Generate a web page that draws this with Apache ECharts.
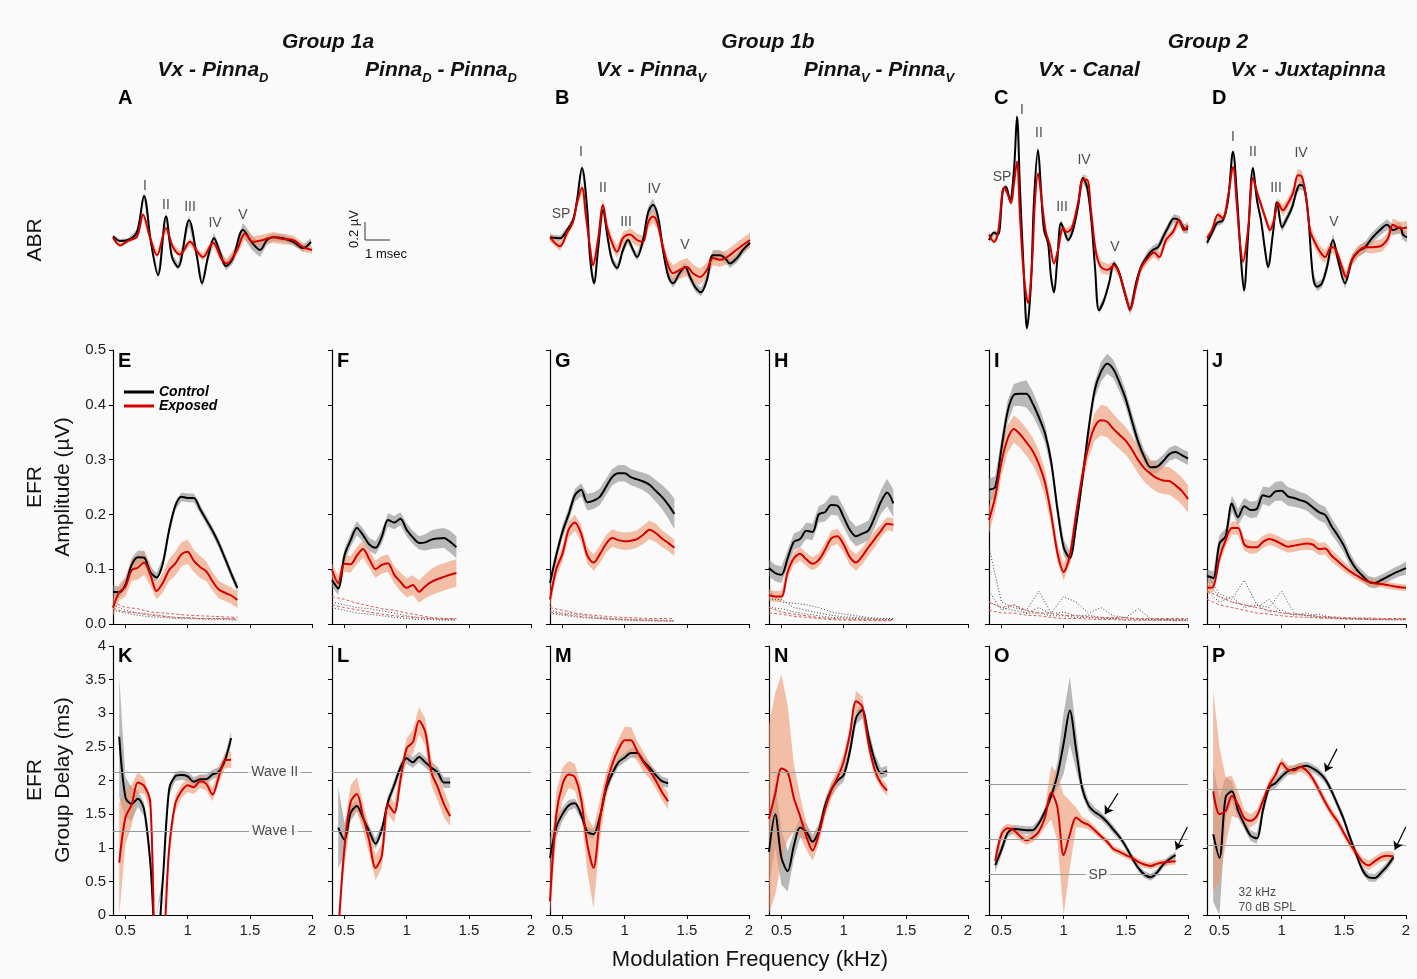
<!DOCTYPE html>
<html><head><meta charset="utf-8">
<script src="https://cdn.jsdelivr.net/npm/echarts@6/dist/echarts.min.js"></script>
<style>html,body{margin:0;padding:0;background:#fafafa}#c{width:1417px;height:979px}</style>
</head><body><div id="c"></div>
<script>
// ---------------- DATA ----------------
const freqs = [0.40,0.45,0.50,0.55,0.60,0.65,0.70,0.75,0.80,0.85,0.90,0.95,1.00,1.05,1.10,1.15,1.20,1.25,1.30,1.35,1.40,1.45,1.50,1.55,1.60,1.65,1.70,1.75,1.80,1.85,1.90,1.95,2.00];
const noiseFreqs = [0.4,0.5,0.6,0.7,0.8,0.9,1.0,1.1,1.2,1.3,1.4,1.5,1.6,1.7,1.8,1.9,2.0];
const tickFreqs = [0.5, 1, 1.5, 2];

// EFR amplitude (uV)
const ampE_ctrl = [0.059,0.058,0.072,0.108,0.122,0.121,0.095,0.085,0.11,0.17,0.215,0.232,0.23,0.23,0.21,0.19,0.17,0.147,0.12,0.092,0.066];
const ampE_exp  = [0.03,0.058,0.068,0.098,0.103,0.112,0.09,0.06,0.075,0.098,0.11,0.127,0.132,0.115,0.104,0.096,0.078,0.063,0.057,0.052,0.044];
const semE_ctrl = [0.012,0.01,0.01,0.012,0.012,0.012,0.01,0.008,0.01,0.01,0.008,0.008,0.008,0.008,0.008,0.008,0.008,0.008,0.008,0.008,0.008];
const semE_exp  = [0.015,0.015,0.018,0.02,0.022,0.022,0.02,0.015,0.018,0.02,0.022,0.022,0.022,0.02,0.02,0.018,0.017,0.016,0.015,0.015,0.015];
const ampF_ctrl = [0.08,0.065,0.125,0.153,0.175,0.162,0.145,0.139,0.159,0.19,0.185,0.192,0.172,0.158,0.148,0.149,0.154,0.156,0.157,0.15,0.14];
const ampF_exp  = [0.099,0.075,0.11,0.109,0.125,0.137,0.118,0.1,0.108,0.111,0.09,0.077,0.066,0.071,0.059,0.069,0.077,0.082,0.086,0.09,0.093];
const semF_ctrl = [0.012,0.012,0.012,0.012,0.013,0.012,0.012,0.012,0.012,0.012,0.012,0.012,0.012,0.012,0.012,0.015,0.017,0.018,0.018,0.02,0.02];
const semF_exp  = [0.012,0.013,0.015,0.015,0.016,0.016,0.016,0.016,0.016,0.016,0.016,0.017,0.017,0.018,0.02,0.022,0.024,0.025,0.025,0.025,0.025];
const ampG_ctrl = [0.075,0.125,0.168,0.2,0.235,0.245,0.222,0.225,0.232,0.25,0.268,0.275,0.275,0.268,0.264,0.26,0.254,0.243,0.232,0.218,0.201];
const ampG_exp  = [0.045,0.1,0.128,0.172,0.185,0.165,0.125,0.112,0.127,0.146,0.157,0.153,0.151,0.152,0.155,0.163,0.172,0.166,0.156,0.148,0.139];
const semG_ctrl = [0.012,0.012,0.012,0.012,0.012,0.012,0.015,0.015,0.015,0.015,0.015,0.015,0.015,0.015,0.015,0.016,0.018,0.02,0.022,0.025,0.028];
const semG_exp  = [0.015,0.015,0.015,0.015,0.015,0.015,0.015,0.015,0.016,0.016,0.016,0.016,0.016,0.016,0.016,0.017,0.017,0.017,0.015,0.015,0.015];
const ampH_ctrl = [0.102,0.093,0.09,0.12,0.15,0.155,0.17,0.168,0.2,0.204,0.217,0.216,0.195,0.172,0.16,0.165,0.171,0.195,0.223,0.24,0.22];
const ampH_exp  = [0.053,0.05,0.05,0.095,0.12,0.128,0.118,0.11,0.117,0.135,0.156,0.16,0.145,0.122,0.112,0.124,0.14,0.155,0.17,0.183,0.181];
const semH_ctrl = [0.015,0.015,0.015,0.015,0.015,0.015,0.015,0.015,0.015,0.017,0.018,0.018,0.018,0.018,0.018,0.018,0.018,0.02,0.022,0.025,0.025];
const semH_exp  = [0.01,0.01,0.01,0.012,0.012,0.012,0.012,0.012,0.012,0.013,0.014,0.014,0.014,0.015,0.015,0.015,0.015,0.015,0.012,0.012,0.012];
const ampI_ctrl = [0.245,0.25,0.32,0.388,0.418,0.42,0.42,0.403,0.378,0.348,0.296,0.21,0.14,0.12,0.18,0.263,0.354,0.427,0.46,0.475,0.465,0.44,0.41,0.37,0.332,0.304,0.286,0.287,0.297,0.31,0.314,0.308,0.302];
const ampI_exp  = [0.19,0.232,0.295,0.338,0.356,0.346,0.332,0.316,0.292,0.258,0.2,0.13,0.095,0.125,0.2,0.27,0.325,0.36,0.372,0.369,0.356,0.345,0.334,0.318,0.299,0.284,0.274,0.266,0.262,0.261,0.253,0.243,0.228];
const semI_ctrl = [0.02,0.02,0.02,0.02,0.02,0.022,0.025,0.022,0.02,0.017,0.015,0.015,0.015,0.012,0.012,0.015,0.015,0.015,0.018,0.018,0.017,0.016,0.015,0.015,0.015,0.012,0.012,0.012,0.012,0.012,0.012,0.012,0.012];
const semI_exp  = [0.025,0.025,0.025,0.025,0.025,0.025,0.025,0.025,0.025,0.025,0.02,0.018,0.015,0.015,0.015,0.018,0.022,0.025,0.028,0.028,0.027,0.026,0.025,0.025,0.025,0.025,0.025,0.025,0.025,0.025,0.025,0.025,0.025];
const ampJ_ctrl = [0.088,0.084,0.147,0.16,0.22,0.195,0.215,0.208,0.21,0.235,0.232,0.242,0.243,0.233,0.23,0.226,0.222,0.213,0.204,0.199,0.179,0.162,0.143,0.118,0.1,0.088,0.077,0.075,0.08,0.086,0.092,0.097,0.102];
const ampJ_exp  = [0.066,0.068,0.12,0.153,0.175,0.175,0.145,0.14,0.14,0.15,0.155,0.152,0.146,0.141,0.143,0.145,0.147,0.145,0.137,0.138,0.125,0.115,0.105,0.096,0.089,0.082,0.077,0.074,0.073,0.071,0.069,0.067,0.066];
const semJ_ctrl = [0.012,0.012,0.015,0.015,0.015,0.015,0.015,0.015,0.015,0.016,0.017,0.017,0.018,0.017,0.016,0.015,0.015,0.015,0.015,0.015,0.015,0.014,0.013,0.012,0.01,0.01,0.01,0.01,0.01,0.01,0.01,0.01,0.012];
const semJ_exp  = [0.01,0.01,0.012,0.012,0.012,0.012,0.012,0.012,0.011,0.011,0.011,0.011,0.011,0.011,0.011,0.011,0.011,0.011,0.011,0.011,0.011,0.01,0.009,0.008,0.008,0.007,0.007,0.007,0.006,0.006,0.006,0.006,0.006];

// noise floors (uV) sampled every 0.1 kHz
const noiseE_c1 = [0.035,0.025,0.02,0.018,0.015,0.012,0.012,0.01,0.01,0.01,0.008];
const noiseE_c2 = [0.025,0.02,0.016,0.013,0.012,0.01,0.01,0.009,0.008,0.008,0.007];
const noiseE_e1 = [0.04,0.03,0.028,0.022,0.02,0.018,0.016,0.015,0.014,0.013,0.012];
const noiseE_e2 = [0.028,0.022,0.02,0.016,0.014,0.012,0.011,0.01,0.01,0.01,0.01];
const noiseF_c1 = [0.04,0.035,0.03,0.028,0.024,0.02,0.015,0.012,0.01,0.008,0.008];
const noiseF_c2 = [0.03,0.025,0.02,0.018,0.015,0.012,0.01,0.008,0.008,0.007,0.007];
const noiseF_e1 = [0.05,0.045,0.038,0.033,0.028,0.025,0.02,0.016,0.012,0.01,0.01];
const noiseF_e2 = [0.035,0.03,0.026,0.022,0.018,0.015,0.013,0.011,0.01,0.009,0.009];
const noiseG_c1 = [0.025,0.02,0.018,0.015,0.012,0.01,0.009,0.008,0.007,0.007,0.006];
const noiseG_c2 = [0.02,0.016,0.013,0.011,0.01,0.008,0.007,0.006,0.006,0.005,0.005];
const noiseG_e1 = [0.03,0.025,0.02,0.017,0.015,0.013,0.012,0.011,0.01,0.01,0.01];
const noiseG_e2 = [0.022,0.018,0.015,0.012,0.01,0.009,0.008,0.007,0.007,0.006,0.006];
const noiseH_c1 = [0.06,0.04,0.038,0.035,0.03,0.022,0.018,0.015,0.012,0.01,0.01];
const noiseH_c2 = [0.045,0.045,0.03,0.025,0.02,0.016,0.013,0.012,0.01,0.009,0.008];
const noiseH_c3 = [0.03,0.028,0.022,0.018,0.015,0.012,0.011,0.01,0.009,0.008,0.008];
const noiseH_e1 = [0.03,0.022,0.018,0.015,0.012,0.01,0.009,0.008,0.008,0.007,0.007];
const noiseH_e2 = [0.02,0.018,0.014,0.012,0.01,0.008,0.007,0.007,0.006,0.006,0.006];
const noiseI_c1 = [0.14,0.04,0.03,0.025,0.06,0.02,0.05,0.04,0.02,0.03,0.015,0.012,0.028,0.01,0.008,0.008,0.008];
const noiseI_c2 = [0.04,0.03,0.025,0.02,0.02,0.015,0.015,0.012,0.012,0.01,0.01,0.008,0.008,0.007,0.007,0.006,0.006];
const noiseI_c3 = [0.06,0.025,0.035,0.02,0.03,0.018,0.022,0.015,0.016,0.012,0.01,0.012,0.009,0.008,0.009,0.007,0.007];
const noiseI_e1 = [0.04,0.03,0.035,0.025,0.02,0.02,0.016,0.015,0.013,0.012,0.012,0.011,0.01,0.01,0.01,0.01,0.01];
const noiseI_e2 = [0.025,0.02,0.02,0.016,0.015,0.012,0.01,0.01,0.009,0.008,0.008,0.007,0.007,0.007,0.007,0.007,0.007];
const noiseJ_c1 = [0.09,0.055,0.045,0.08,0.035,0.03,0.06,0.02,0.015,0.018,0.012,0.01,0.01,0.01,0.009,0.009,0.009];
const noiseJ_c2 = [0.075,0.05,0.04,0.035,0.03,0.045,0.02,0.018,0.015,0.012,0.012,0.01,0.009,0.008,0.008,0.008,0.008];
const noiseJ_c3 = [0.06,0.04,0.05,0.03,0.035,0.022,0.025,0.016,0.02,0.012,0.011,0.01,0.009,0.009,0.008,0.008,0.008];
const noiseJ_e1 = [0.06,0.05,0.04,0.035,0.03,0.025,0.02,0.018,0.016,0.014,0.013,0.012,0.011,0.011,0.01,0.01,0.01];
const noiseJ_e2 = [0.045,0.035,0.03,0.025,0.02,0.018,0.015,0.013,0.012,0.011,0.01,0.009,0.009,0.008,0.008,0.008,0.008];

// EFR group delay (ms)
const delK_ctrl = [null,2.65,1.75,1.65,1.73,1.57,0.78,-0.6,0.5,1.85,2.06,2.08,2.06,1.98,2.02,2.02,2.09,2.13,2.3,2.63];
const delK_exp  = [null,0.78,1.45,1.64,1.97,1.92,1.67,-0.8,-0.6,0.95,1.65,1.84,1.93,1.9,1.99,1.95,1.79,2.05,2.3,2.31];
const sdK_ctrl  = [null,0.9,0.3,0.25,0.12,0.1,0.1,0.1,0.1,0.08,0.07,0.07,0.07,0.07,0.07,0.07,0.07,0.07,0.08,0.1];
const sdK_exp   = [null,0.9,0.4,0.3,0.15,0.12,0.1,0.1,0.1,0.12,0.12,0.1,0.1,0.1,0.1,0.1,0.1,0.1,0.12,0.12];
const delL_ctrl = [null,1.3,1.12,1.52,1.62,1.44,1.24,1.06,1.27,1.68,1.93,2.19,2.33,2.27,2.35,2.27,2.19,2.12,1.97,1.97];
const delL_exp  = [null,-0.3,1.0,1.68,1.8,1.46,1.1,0.7,0.88,1.65,1.52,2.01,2.48,2.57,2.89,2.72,2.12,1.9,1.65,1.47];
const sdL_ctrl  = [null,0.6,0.25,0.12,0.08,0.08,0.08,0.08,0.08,0.08,0.08,0.08,0.08,0.08,0.08,0.08,0.08,0.08,0.08,0.08];
const sdL_exp   = [null,0.3,0.3,0.25,0.25,0.2,0.2,0.18,0.18,0.15,0.15,0.15,0.15,0.18,0.2,0.2,0.2,0.2,0.2,0.15];
const delM_ctrl = [0.85,1.3,1.5,1.63,1.66,1.49,1.24,1.2,1.45,1.87,2.1,2.27,2.34,2.41,2.41,2.29,2.19,2.08,1.99,1.96];
const delM_exp  = [0.2,1.48,1.94,2.09,2.05,1.72,1.05,0.7,1.4,1.92,2.24,2.46,2.6,2.6,2.44,2.28,2.15,2.0,1.83,1.69];
const sdM_ctrl  = [0.3,0.15,0.1,0.08,0.07,0.07,0.07,0.07,0.08,0.08,0.07,0.07,0.07,0.07,0.07,0.07,0.07,0.07,0.07,0.07];
const sdM_exp   = [0.5,0.35,0.25,0.2,0.2,0.2,0.4,0.6,0.3,0.2,0.15,0.15,0.2,0.2,0.15,0.15,0.12,0.12,0.12,0.12];
const delN_ctrl = [0.94,1.5,0.85,0.65,1.03,1.3,1.24,1.09,1.25,1.62,1.86,2.0,2.08,2.43,2.93,3.05,2.65,2.3,2.11,2.14];
const delN_exp  = [1.43,1.8,2.18,2.12,1.74,1.47,1.17,0.96,1.2,1.57,1.85,2.04,2.28,2.68,3.18,3.1,2.55,2.16,1.96,1.85];
const sdN_ctrl  = [0.5,0.5,0.4,0.3,0.2,0.15,0.12,0.1,0.1,0.1,0.1,0.1,0.1,0.1,0.1,0.12,0.12,0.1,0.08,0.08];
const sdN_exp   = [1.4,1.5,1.4,1.0,0.5,0.3,0.2,0.15,0.15,0.12,0.12,0.12,0.12,0.12,0.15,0.15,0.12,0.1,0.08,0.08];
const delO_ctrl = [null,0.74,0.97,1.22,1.28,1.27,1.26,1.26,1.36,1.54,1.77,2.08,2.55,3.04,2.46,1.88,1.63,1.53,1.47,1.38,1.27,1.16,1.02,0.85,0.7,0.6,0.56,0.63,0.75,0.83,0.89];
const delO_exp  = [null,0.8,1.2,1.29,1.26,1.17,1.11,1.15,1.24,1.45,1.82,1.6,0.89,1.2,1.45,1.38,1.34,1.26,1.17,1.09,0.98,0.94,0.89,0.85,0.79,0.75,0.73,0.76,0.78,0.79,0.8];
const sdO_ctrl  = [null,0.1,0.08,0.06,0.06,0.06,0.06,0.06,0.06,0.06,0.08,0.2,0.45,0.5,0.3,0.1,0.08,0.07,0.06,0.06,0.06,0.05,0.05,0.05,0.05,0.05,0.05,0.05,0.05,0.05,0.05];
const sdO_exp   = [null,0.15,0.1,0.07,0.07,0.07,0.07,0.07,0.08,0.15,0.4,0.5,0.9,0.5,0.15,0.08,0.07,0.06,0.05,0.05,0.05,0.05,0.05,0.05,0.05,0.05,0.05,0.05,0.05,0.05,0.05];
const delP_ctrl = [null,1.2,0.85,1.75,1.84,1.55,1.35,1.18,1.14,1.56,1.9,1.96,2.06,2.14,2.17,2.2,2.22,2.18,2.12,2.02,1.85,1.64,1.42,1.15,0.9,0.67,0.56,0.55,0.63,0.73,0.86];
const delP_exp  = [null,1.84,1.5,1.55,1.77,1.64,1.44,1.4,1.47,1.7,1.93,2.08,2.26,2.16,2.15,2.2,2.15,2.03,1.86,1.68,1.52,1.39,1.22,1.06,0.92,0.79,0.74,0.8,0.86,0.88,0.87];
const sdP_ctrl  = [null,1.0,0.9,0.3,0.15,0.1,0.08,0.08,0.08,0.08,0.07,0.07,0.07,0.06,0.06,0.06,0.06,0.06,0.06,0.06,0.06,0.06,0.06,0.06,0.06,0.06,0.06,0.06,0.06,0.06,0.06];
const sdP_exp   = [null,1.5,1.0,0.5,0.3,0.2,0.12,0.1,0.1,0.08,0.08,0.08,0.08,0.07,0.07,0.07,0.07,0.07,0.07,0.07,0.07,0.07,0.07,0.07,0.07,0.07,0.07,0.07,0.07,0.07,0.07];

// ABR waveforms: [time ms, amplitude uV, sem uV]
const abrA_ctrl = [[0,0.04,0.02],[0.28,-0.01,0.02],[0.6,0,0.02],[0.96,0.09,0.03],[1.24,0.49,0.04],[1.52,-0.03,0.04],[1.8,-0.39,0.04],[2.12,0.26,0.05],[2.36,-0.19,0.04],[2.6,-0.3,0.04],[3.04,0.22,0.06],[3.36,-0.19,0.05],[3.56,-0.48,0.05],[3.8,-0.19,0.05],[4.04,0.02,0.06],[4.28,-0.14,0.05],[4.52,-0.29,0.05],[4.8,-0.2,0.06],[5.2,0.11,0.08],[5.56,-0.03,0.08],[5.88,-0.11,0.08],[6.16,0,0.05],[6.4,0.03,0.04],[6.8,0.02,0.04],[7.2,-0.02,0.04],[7.6,-0.09,0.04],[7.92,-0.02,0.04]];
const abrA_exp  = [[0,0.03,0.02],[0.28,-0.06,0.02],[0.6,-0.01,0.02],[0.96,0.04,0.03],[1.2,0.28,0.04],[1.48,0.03,0.04],[1.76,-0.17,0.04],[2.12,0.13,0.04],[2.4,-0.08,0.04],[2.68,-0.16,0.04],[3.08,-0.02,0.04],[3.4,-0.14,0.04],[3.6,-0.19,0.04],[4.0,-0.03,0.04],[4.36,-0.22,0.05],[4.56,-0.26,0.05],[4.96,-0.11,0.06],[5.28,0.07,0.06],[5.6,-0.02,0.06],[6.0,0,0.06],[6.4,0.03,0.06],[6.8,0.01,0.06],[7.2,0,0.05],[7.6,-0.08,0.05],[7.96,-0.11,0.04]];
const abrB_ctrl = [[0,0.03,0.03],[0.4,0.02,0.03],[0.68,0.11,0.03],[0.92,0.22,0.04],[1.08,0.44,0.04],[1.28,0.8,0.05],[1.48,0.37,0.05],[1.6,-0.19,0.04],[1.76,-0.48,0.04],[1.92,-0.11,0.04],[2.12,0.33,0.04],[2.32,0,0.04],[2.48,-0.22,0.04],[2.68,-0.31,0.04],[2.92,-0.11,0.04],[3.12,0,0.04],[3.32,-0.11,0.04],[3.48,-0.19,0.04],[3.72,0,0.05],[3.92,0.3,0.07],[4.12,0.39,0.07],[4.32,0.26,0.06],[4.52,-0.11,0.05],[4.72,-0.39,0.05],[4.92,-0.48,0.05],[5.2,-0.36,0.05],[5.4,-0.3,0.05],[5.6,-0.41,0.05],[5.8,-0.52,0.05],[6.04,-0.58,0.05],[6.28,-0.44,0.05],[6.52,-0.17,0.06],[6.8,-0.17,0.06],[7.0,-0.2,0.05],[7.2,-0.26,0.05],[7.48,-0.2,0.05],[7.72,-0.11,0.05],[8.0,-0.03,0.05]];
const abrB_exp  = [[0,0.03,0.05],[0.4,-0.07,0.05],[0.68,0.08,0.05],[0.92,0.2,0.05],[1.08,0.41,0.06],[1.28,0.58,0.06],[1.44,0.26,0.06],[1.6,-0.08,0.06],[1.72,-0.28,0.06],[1.92,0,0.06],[2.12,0.39,0.07],[2.28,0.14,0.07],[2.48,-0.03,0.07],[2.68,-0.13,0.07],[2.92,0.02,0.07],[3.2,0.06,0.07],[3.48,0,0.07],[3.72,-0.02,0.07],[3.92,0.19,0.07],[4.12,0.26,0.07],[4.28,0.2,0.07],[4.52,-0.08,0.08],[4.72,-0.28,0.08],[4.92,-0.37,0.09],[5.2,-0.33,0.1],[5.48,-0.3,0.1],[5.72,-0.37,0.1],[6.0,-0.41,0.09],[6.28,-0.33,0.08],[6.52,-0.2,0.08],[6.8,-0.22,0.08],[7.08,-0.19,0.08],[7.32,-0.14,0.08],[7.6,-0.08,0.08],[8.0,0,0.08]];
const abrC_ctrl = [[0,0,0.03],[0.2,0.08,0.03],[0.36,0.06,0.03],[0.56,0.56,0.03],[0.68,0.59,0.03],[0.84,0.44,0.03],[1.0,0.78,0.04],[1.12,1.37,0.05],[1.24,0.56,0.05],[1.4,-0.41,0.05],[1.52,-0.98,0.05],[1.68,-0.48,0.05],[1.8,0.44,0.05],[1.96,1.0,0.05],[2.08,0.56,0.04],[2.2,0.11,0.04],[2.36,-0.03,0.04],[2.48,-0.41,0.04],[2.6,-0.58,0.04],[2.72,-0.26,0.04],[2.88,0.19,0.04],[3.0,0.11,0.04],[3.16,0,0.04],[3.36,0.11,0.04],[3.56,0.37,0.04],[3.76,0.69,0.05],[3.92,0.59,0.05],[4.08,0.26,0.04],[4.24,-0.3,0.04],[4.4,-0.78,0.04],[4.6,-0.67,0.04],[4.8,-0.48,0.04],[5.0,-0.26,0.04],[5.2,-0.36,0.04],[5.4,-0.56,0.05],[5.64,-0.76,0.05],[5.88,-0.48,0.05],[6.08,-0.3,0.05],[6.36,-0.17,0.05],[6.56,-0.11,0.05],[6.76,-0.08,0.05],[6.96,0.03,0.05],[7.16,0.14,0.05],[7.4,0.24,0.05],[7.6,0.22,0.05],[7.8,0.13,0.05],[7.96,0.12,0.05]];
const abrC_exp  = [[0,0.06,0.03],[0.2,-0.02,0.03],[0.36,0.08,0.03],[0.6,0.58,0.03],[0.72,0.53,0.03],[0.88,0.41,0.03],[1.0,0.63,0.04],[1.12,0.87,0.05],[1.24,0.26,0.04],[1.4,-0.41,0.04],[1.56,-0.7,0.05],[1.72,-0.26,0.04],[1.84,0.44,0.04],[1.96,0.74,0.04],[2.12,0.41,0.04],[2.28,0.08,0.04],[2.44,-0.06,0.04],[2.6,-0.26,0.04],[2.76,-0.11,0.04],[2.96,0.13,0.04],[3.12,0.09,0.04],[3.32,0.14,0.04],[3.56,0.41,0.05],[3.76,0.67,0.05],[3.92,0.67,0.05],[4.08,0.33,0.05],[4.28,-0.14,0.07],[4.48,-0.3,0.07],[4.76,-0.33,0.06],[5.0,-0.28,0.05],[5.2,-0.36,0.05],[5.44,-0.59,0.05],[5.64,-0.78,0.06],[5.88,-0.52,0.05],[6.08,-0.31,0.05],[6.36,-0.2,0.05],[6.6,-0.14,0.05],[6.8,-0.19,0.05],[7.08,0,0.05],[7.36,0.09,0.05],[7.6,0.22,0.05],[7.8,0.11,0.05],[7.96,0.16,0.05]];
const abrD_ctrl = [[0,-0.03,0.04],[0.2,0.08,0.04],[0.4,0.19,0.04],[0.64,0.22,0.04],[0.84,0.44,0.04],[1.04,0.98,0.05],[1.2,0.48,0.05],[1.36,-0.22,0.05],[1.48,-0.56,0.05],[1.64,0.03,0.05],[1.84,0.8,0.05],[2.0,0.44,0.05],[2.16,0.22,0.05],[2.32,-0.11,0.05],[2.44,-0.3,0.05],[2.64,0.08,0.05],[2.8,0.42,0.05],[3.0,0.14,0.05],[3.16,0.22,0.05],[3.4,0.36,0.05],[3.6,0.56,0.05],[3.72,0.61,0.05],[3.88,0.59,0.05],[4.04,0.3,0.05],[4.24,-0.41,0.05],[4.4,-0.52,0.05],[4.6,-0.48,0.05],[4.8,-0.3,0.06],[5.04,0,0.07],[5.24,-0.22,0.06],[5.52,-0.48,0.06],[5.8,-0.22,0.06],[6.04,-0.13,0.06],[6.32,-0.08,0.06],[6.6,0.02,0.06],[6.92,0.11,0.06],[7.2,0.17,0.06],[7.44,0.11,0.06],[7.72,0.14,0.06],[7.84,0.06,0.06],[8.0,0.03,0.06]];
const abrD_exp  = [[0,0.02,0.04],[0.2,0.11,0.04],[0.44,0.28,0.04],[0.64,0.24,0.04],[0.84,0.48,0.04],[1.04,0.81,0.05],[1.2,0.37,0.05],[1.32,-0.03,0.05],[1.44,-0.24,0.05],[1.64,0.11,0.05],[1.84,0.69,0.05],[2.0,0.53,0.05],[2.2,0.36,0.05],[2.4,0.19,0.05],[2.52,0.11,0.05],[2.68,0.22,0.05],[2.84,0.41,0.05],[3.04,0.33,0.06],[3.2,0.39,0.06],[3.44,0.52,0.07],[3.64,0.72,0.07],[3.8,0.7,0.07],[3.96,0.48,0.07],[4.12,0.11,0.07],[4.32,-0.03,0.07],[4.52,-0.13,0.07],[4.72,-0.19,0.07],[4.92,-0.09,0.07],[5.04,-0.08,0.07],[5.2,-0.14,0.06],[5.4,-0.3,0.06],[5.56,-0.41,0.06],[5.8,-0.22,0.06],[6.04,-0.13,0.06],[6.32,-0.08,0.06],[6.64,-0.08,0.07],[7.0,-0.06,0.07],[7.24,0.02,0.07],[7.44,0.17,0.07],[7.72,0.13,0.07],[8.0,0.14,0.07]];
const abrLabelsA = [['I',1.28,0.6],['II',2.12,0.39],['III',3.08,0.37],['IV',4.08,0.19],['V',5.2,0.28]];
const abrLabelsB = [['SP',0.44,0.29],['I',1.24,0.98],['II',2.12,0.58],['III',3.04,0.2],['IV',4.16,0.56],['V',5.4,-0.06]];
const abrLabelsC = [['SP',0.52,0.7],['I',1.32,1.44],['II',2.0,1.19],['III',2.92,0.36],['IV',3.8,0.89],['V',5.04,-0.08]];
const abrLabelsD = [['I',1.04,1.14],['II',1.84,0.98],['III',2.76,0.58],['IV',3.76,0.96],['V',5.08,0.2]];
const scaleBarT = [1.32, 1.32, 2.32];
const scaleBarV = [0.2, 0, 0];

// reference latencies (ms)
const refWaves12 = [2.12, 1.25];
const refO = [1.95, 1.12, 0.6];
const refP = [1.87, 1.04];

// ---------------- STYLE / LAYOUT ----------------
const BG = '#fafafa';
const RED = '#d40000';
const RED_BAND = 'rgba(238,150,110,0.6)';
const GRAY_BAND = 'rgba(130,130,130,0.55)';
const FONT = '"Liberation Sans", Arial, sans-serif';
const COLS = [113, 332, 550, 769, 989, 1207];
const W = 199;

const grids = [], xAxes = [], yAxes = [], series = [], graphic = [];
function addGrid(left, top, width, height, xa, ya) {
  const i = grids.length;
  grids.push({left, top, width, height});
  xa.gridIndex = i; ya.gridIndex = i;
  xAxes.push(xa); yAxes.push(ya);
  return i;
}
const axLine = {show: true, onZero: false, lineStyle: {color: '#000', width: 1.2}};
function freqX(showLabels) {
  return {type: 'value', min: 0.4, max: 2, axisLine: axLine,
    axisTick: {show: true, customValues: tickFreqs, length: 4, lineStyle: {color: '#000'}},
    axisLabel: {show: showLabels, customValues: tickFreqs, formatter: v => String(v), fontSize: 15, color: '#222', fontFamily: FONT, margin: 8},
    splitLine: {show: false}};
}
function valY(min, max, interval, showLabels, fmt) {
  return {type: 'value', min, max, interval, axisLine: axLine,
    axisTick: {show: true, length: 4, lineStyle: {color: '#000'}},
    axisLabel: {show: showLabels, formatter: fmt, fontSize: 15, color: '#222', fontFamily: FONT, margin: 7},
    splitLine: {show: false}};
}
function hiddenAxis(min, max) {
  return {type: 'value', min, max, show: false, splitLine: {show: false}};
}
function clamp(v, a, b) { return Math.max(a, Math.min(b, v)); }
function band(gi, xs, vals, sems, color, ymin, ymax) {
  const pts = [];
  for (let i = 0; i < vals.length; i++) {
    if (vals[i] == null || sems[i] == null) continue;
    pts.push([xs[i], clamp(vals[i] - sems[i], ymin, ymax), clamp(vals[i] + sems[i], ymin, ymax)]);
  }
  series.push({type: 'custom', xAxisIndex: gi, yAxisIndex: gi, silent: true, clip: true, data: pts,
    renderItem: function (params, api) {
      if (params.dataIndex !== 0) return;
      const up = [], dn = [];
      pts.forEach(p => { up.push(api.coord([p[0], p[2]])); dn.push(api.coord([p[0], p[1]])); });
      return {type: 'polygon', shape: {points: up.concat(dn.reverse()), smooth: 0}, style: {fill: color}};
    }});
}
function line(gi, xs, vals, name, color, width, type, smooth, extra) {
  const data = vals.map((v, i) => [xs[i], v]);
  const s = {type: 'line', name, xAxisIndex: gi, yAxisIndex: gi, data, symbol: 'none', showSymbol: false,
    smooth: smooth || false, clip: true, silent: true, lineStyle: {color, width, type}, itemStyle: {color},
    emphasis: {disabled: true}};
  if (extra) Object.assign(s, extra);
  series.push(s);
}
function labels(gi, items, opts) {
  series.push({type: 'scatter', xAxisIndex: gi, yAxisIndex: gi, symbolSize: 1, silent: true, z: 10,
    itemStyle: {color: 'rgba(0,0,0,0)'},
    data: items.map(it => ({name: it[0], value: [it[1], it[2]]})),
    label: Object.assign({show: true, formatter: '{b}', position: 'inside', fontSize: 14, color: '#222', fontFamily: FONT}, opts || {})});
}

// ---------------- ABR ROW ----------------
const abrPanels = [
  {col: 0, ctrl: abrA_ctrl, exp: abrA_exp, labels: abrLabelsA},
  {col: 2, ctrl: abrB_ctrl, exp: abrB_exp, labels: abrLabelsB},
  {col: 4, ctrl: abrC_ctrl, exp: abrC_exp, labels: abrLabelsC},
  {col: 5, ctrl: abrD_ctrl, exp: abrD_exp, labels: abrLabelsD}
];
abrPanels.forEach(p => {
  const gi = addGrid(COLS[p.col], 96, 200, 243, hiddenAxis(0, 8), hiddenAxis(-1.1, 1.6));
  const tC = p.ctrl.map(d => d[0]), vC = p.ctrl.map(d => d[1]), sC = p.ctrl.map(d => d[2]);
  const tE = p.exp.map(d => d[0]), vE = p.exp.map(d => d[1]), sE = p.exp.map(d => d[2]);
  band(gi, tC, vC, sC, GRAY_BAND, -1.1, 1.6);
  band(gi, tE, vE, sE, RED_BAND, -1.1, 1.6);
  line(gi, tC, vC, 'Control', '#000', 2, 'solid', 0.35);
  line(gi, tE, vE, 'Exposed', RED, 2, 'solid', 0.35);
  labels(gi, p.labels, {fontSize: 14});
});
// scale bar
{
  const gi = addGrid(COLS[1], 96, 200, 243, hiddenAxis(0, 8), hiddenAxis(-1.1, 1.6));
  line(gi, scaleBarT, scaleBarV, 'scale', '#333', 1, 'solid', false);
}

// ---------------- EFR AMPLITUDE ROW ----------------
const ampPanels = [
  {ctrl: ampE_ctrl, exp: ampE_exp, cs: semE_ctrl, es: semE_exp, nc: [noiseE_c1, noiseE_c2], ne: [noiseE_e1, noiseE_e2]},
  {ctrl: ampF_ctrl, exp: ampF_exp, cs: semF_ctrl, es: semF_exp, nc: [noiseF_c1, noiseF_c2], ne: [noiseF_e1, noiseF_e2]},
  {ctrl: ampG_ctrl, exp: ampG_exp, cs: semG_ctrl, es: semG_exp, nc: [noiseG_c1, noiseG_c2], ne: [noiseG_e1, noiseG_e2]},
  {ctrl: ampH_ctrl, exp: ampH_exp, cs: semH_ctrl, es: semH_exp, nc: [noiseH_c1, noiseH_c2, noiseH_c3], ne: [noiseH_e1, noiseH_e2]},
  {ctrl: ampI_ctrl, exp: ampI_exp, cs: semI_ctrl, es: semI_exp, nc: [noiseI_c1, noiseI_c2, noiseI_c3], ne: [noiseI_e1, noiseI_e2]},
  {ctrl: ampJ_ctrl, exp: ampJ_exp, cs: semJ_ctrl, es: semJ_exp, nc: [noiseJ_c1, noiseJ_c2, noiseJ_c3], ne: [noiseJ_e1, noiseJ_e2]}
];
ampPanels.forEach((p, k) => {
  const gi = addGrid(COLS[k], 350, W, 274, freqX(false), valY(0, 0.5, 0.1, k === 0, v => v.toFixed(1)));
  p.nc.forEach(n => line(gi, noiseFreqs, n, 'noise', '#444', 1, [1, 2], false));
  p.ne.forEach(n => line(gi, noiseFreqs, n, 'noise', '#e0605a', 1, [3, 2], false));
  band(gi, freqs, p.ctrl, p.cs, GRAY_BAND, 0, 0.5);
  band(gi, freqs, p.exp, p.es, RED_BAND, 0, 0.5);
  line(gi, freqs, p.ctrl, 'Control', '#000', 2, 'solid', 0.3);
  line(gi, freqs, p.exp, 'Exposed', RED, 2, 'solid', 0.3);
});

// ---------------- GROUP DELAY ROW ----------------
const delPanels = [
  {ctrl: delK_ctrl, exp: delK_exp, cs: sdK_ctrl, es: sdK_exp, refs: refWaves12,
   texts: [['Wave II', 1.70, 2.12], ['Wave I', 1.69, 1.25]]},
  {ctrl: delL_ctrl, exp: delL_exp, cs: sdL_ctrl, es: sdL_exp, refs: refWaves12},
  {ctrl: delM_ctrl, exp: delM_exp, cs: sdM_ctrl, es: sdM_exp, refs: refWaves12},
  {ctrl: delN_ctrl, exp: delN_exp, cs: sdN_ctrl, es: sdN_exp, refs: refWaves12},
  {ctrl: delO_ctrl, exp: delO_exp, cs: sdO_ctrl, es: sdO_exp, refs: refO,
   texts: [['SP', 1.276, 0.6]],
   arrows: [[1.437, 1.81, 1.332, 1.5], [1.995, 1.31, 1.903, 0.97]]},
  {ctrl: delP_ctrl, exp: delP_exp, cs: sdP_ctrl, es: sdP_exp, refs: refP,
   arrows: [[1.445, 2.47, 1.35, 2.13], [1.998, 1.31, 1.91, 0.97]],
   notes: [['32 kHz', 0.65, 0.33], ['70 dB SPL', 0.65, 0.11]]}
];
delPanels.forEach((p, k) => {
  const gi = addGrid(COLS[k], 646, W, 269, freqX(true), valY(0, 4, 0.5, k === 0, v => String(v)));
  line(gi, [], [], 'ref', '#999', 1, 'solid', false, {
    markLine: {silent: true, symbol: 'none', animation: false, label: {show: false},
      lineStyle: {color: '#9a9a9a', width: 1, type: 'solid'},
      data: p.refs.map(r => ({yAxis: r}))}
  });
  band(gi, freqs, p.ctrl, p.cs, GRAY_BAND, 0, 4);
  band(gi, freqs, p.exp, p.es, RED_BAND, 0, 4);
  line(gi, freqs, p.ctrl, 'Control', '#000', 2, 'solid', 0.3);
  const extra = p.arrows ? {markLine: {silent: true, animation: false, symbol: ['none', 'arrow'], symbolSize: 8,
    label: {show: false}, lineStyle: {color: '#000', width: 1.2, type: 'solid'},
    data: p.arrows.map(a => [{coord: [a[0], a[1]]}, {coord: [a[2], a[3]]}])}} : null;
  line(gi, freqs, p.exp, 'Exposed', RED, 2, 'solid', 0.3, extra);
  if (p.texts) labels(gi, p.texts, {backgroundColor: BG, padding: [1, 3], fontSize: 14, color: '#222'});
  if (p.notes) labels(gi, p.notes, {position: 'right', distance: 0, fontSize: 12, color: '#222'});
});

// ---------------- TEXT ----------------
function txt(x, y, text, size, opts) {
  graphic.push(Object.assign({type: 'text', x, y, silent: true, z: 100,
    style: Object.assign({text, fontSize: size, fontFamily: FONT, fill: '#111', align: 'center', verticalAlign: 'middle'}, (opts && opts.style) || {})},
    opts && opts.el ? opts.el : {}));
}
const bi = {style: {fontWeight: 'bold', fontStyle: 'italic'}};
txt(328, 42, 'Group 1a', 21, bi);
txt(768, 42, 'Group 1b', 21, bi);
txt(1208, 42, 'Group 2', 21, bi);
const subRich = {s: {fontSize: 13, fontWeight: 'bold', fontStyle: 'italic', fontFamily: FONT, fill: '#111', padding: [16, 0, 0, 0]}};
function sub(x, text) { txt(x, 70, text, 21, {style: {fontWeight: 'bold', fontStyle: 'italic', rich: subRich}}); }
sub(213, 'Vx - Pinna{s|D}');
sub(441, 'Pinna{s|D} - Pinna{s|D}');
sub(651, 'Vx - Pinna{s|V}');
sub(879, 'Pinna{s|V} - Pinna{s|V}');
sub(1089, 'Vx - Canal');
sub(1308, 'Vx - Juxtapinna');
// panel letters
const letterStyle = {style: {fontWeight: 'bold', align: 'left', fill: '#000'}};
[['A', 0], ['B', 2], ['C', 4], ['D', 5]].forEach(a => txt(COLS[a[1]] + 5, 98, a[0], 20, letterStyle));
['E', 'F', 'G', 'H', 'I', 'J'].forEach((l, k) => txt(COLS[k] + 5, 361, l, 20, letterStyle));
['K', 'L', 'M', 'N', 'O', 'P'].forEach((l, k) => txt(COLS[k] + 5, 656, l, 20, letterStyle));
// row titles
const rot = {el: {rotation: Math.PI / 2}};
txt(35, 240, 'ABR', 21, rot);
txt(35, 487, 'EFR', 21, rot);
txt(63, 487, 'Amplitude (\u00b5V)', 21, rot);
txt(35, 780, 'EFR', 21, rot);
txt(63, 780, 'Group Delay (ms)', 21, rot);
txt(750, 960, 'Modulation Frequency (kHz)', 22);
// scale bar text
txt(354, 229, '0.2 \u00b5V', 13, rot);
txt(386, 254, '1 msec', 13);

const option = {
  backgroundColor: BG,
  animation: false,
  legend: {data: ['Control', 'Exposed'], left: 124, top: 385, orient: 'vertical', itemGap: 0,
    itemWidth: 30, itemHeight: 3, icon: 'rect', selectedMode: false, padding: 0,
    textStyle: {fontSize: 14, fontWeight: 'bold', fontStyle: 'italic', fontFamily: FONT, color: '#000'}},
  grid: grids, xAxis: xAxes, yAxis: yAxes, series: series, graphic: graphic
};
const chart = echarts.init(document.getElementById('c'), null, {renderer: 'canvas', width: 1417, height: 979});
chart.setOption(option);
</script></body></html>
